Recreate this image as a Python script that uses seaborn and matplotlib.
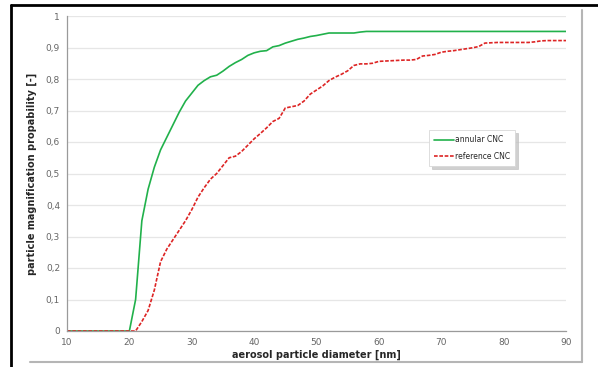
import matplotlib
matplotlib.use("Agg")
import matplotlib.pyplot as plt
from matplotlib.lines import Line2D
from matplotlib.ticker import FuncFormatter
import seaborn as sns
import pandas as pd

diameter_nm = list(range(10, 91))

annular_cnc = [
    0, 0, 0, 0, 0, 0, 0, 0, 0, 0, 0,                      # 10-20
    0.10, 0.35, 0.45, 0.52, 0.575, 0.615, 0.655, 0.695, 0.73, 0.755,  # 21-30
    0.78, 0.795, 0.807, 0.812, 0.825, 0.84, 0.852, 0.862, 0.875, 0.883,  # 31-40
    0.888, 0.89, 0.902, 0.906, 0.914, 0.92, 0.926, 0.93, 0.935, 0.938,  # 41-50
    0.942, 0.946, 0.946, 0.946, 0.946, 0.946, 0.949, 0.951, 0.951, 0.951,  # 51-60
    0.951, 0.951, 0.951, 0.951, 0.951, 0.951, 0.951, 0.951, 0.951, 0.951,  # 61-70
    0.951, 0.951, 0.951, 0.951, 0.951, 0.951, 0.951, 0.951, 0.951, 0.951,  # 71-80
    0.951, 0.951, 0.951, 0.951, 0.951, 0.951, 0.951, 0.951, 0.951, 0.951,  # 81-90
]

reference_cnc = [
    0, 0, 0, 0, 0, 0, 0, 0, 0, 0, 0,                      # 10-20
    0.0, 0.03, 0.065, 0.13, 0.22, 0.26, 0.29, 0.32, 0.35, 0.385,  # 21-30
    0.425, 0.455, 0.482, 0.50, 0.525, 0.55, 0.555, 0.57, 0.59, 0.61,  # 31-40
    0.627, 0.645, 0.665, 0.675, 0.708, 0.712, 0.716, 0.73, 0.752, 0.765,  # 41-50
    0.778, 0.795, 0.806, 0.815, 0.826, 0.843, 0.848, 0.848, 0.85, 0.856,  # 51-60
    0.857, 0.858, 0.859, 0.86, 0.86, 0.862, 0.873, 0.875, 0.878, 0.885,  # 61-70
    0.888, 0.89, 0.893, 0.896, 0.899, 0.903, 0.914, 0.915, 0.916, 0.916,  # 71-80
    0.916, 0.916, 0.916, 0.916, 0.918, 0.921, 0.922, 0.922, 0.922, 0.922,  # 81-90
]

x_ticks = [10, 20, 30, 40, 50, 60, 70, 80, 90]
y_ticks = [0, 0.1, 0.2, 0.3, 0.4, 0.5, 0.6, 0.7, 0.8, 0.9, 1]

df = pd.DataFrame({
    "diameter": diameter_nm,
    "annular CNC": annular_cnc,
    "reference CNC": reference_cnc,
})

sns.set_style("white")
plt.rcParams["font.family"] = ["DejaVu Sans"]

fig = plt.figure(figsize=(5.98, 3.67), dpi=100)
ax = fig.add_axes([67 / 598, 1 - 331 / 367, (566 - 67) / 598, (331 - 16) / 367])

sns.lineplot(data=df, x="diameter", y="annular CNC", ax=ax,
             color="#21b14b", linewidth=1.2, label="annular CNC")
sns.lineplot(data=df, x="diameter", y="reference CNC", ax=ax,
             color="#dd2424", linewidth=1.2, label="reference CNC")
ax.lines[1].set_dashes((2.2, 1.0))

ax.set_xlim(10, 90)
ax.set_ylim(0, 1)
ax.set_xticks(x_ticks)
ax.set_yticks(y_ticks)
ax.yaxis.set_major_formatter(FuncFormatter(lambda v, p: f"{v:g}".replace(".", ",")))
ax.grid(axis="y", color="#e6e6e6", linewidth=0.9)
ax.set_axisbelow(True)

for side in ["top", "right"]:
    ax.spines[side].set_visible(False)
for side in ["left", "bottom"]:
    ax.spines[side].set_color("#9a9a9a")
    ax.spines[side].set_linewidth(0.9)
ax.tick_params(axis="both", labelsize=6.5, labelcolor="#666666", length=3,
               width=0.8, direction="out", pad=2, color="#9a9a9a")

ax.set_xlabel("aerosol particle diameter [nm]", fontsize=7, fontweight="bold", labelpad=2)
ax.set_ylabel("particle magnification propability [-]", fontsize=7, fontweight="bold", labelpad=6)

leg = ax.legend(loc="upper left", bbox_to_anchor=((429 - 67) / 499, 1 - (130 - 16) / 315),
                fontsize=5.5, frameon=True, fancybox=False,
                shadow={"color": "#bdbdbd", "alpha": 0.7},
                handlelength=2.6, handletextpad=0.1, borderpad=0.7, labelspacing=1.0,
                borderaxespad=0)
leg.get_frame().set_edgecolor("#d8d8d8")
leg.get_frame().set_linewidth(0.6)

# page frame lines around the chart
fig.add_artist(Line2D([11 / 598, 1], [1 - 5 / 367, 1 - 5 / 367], color="black", linewidth=2))
fig.add_artist(Line2D([11 / 598, 11 / 598], [0, 1 - 5 / 367], color="black", linewidth=2))
fig.add_artist(Line2D([582 / 598, 582 / 598], [1 - 362 / 367, 1 - 10 / 367], color="#b5b5b5", linewidth=1.5))
fig.add_artist(Line2D([30 / 598, 582 / 598], [1 - 362 / 367, 1 - 362 / 367], color="#b5b5b5", linewidth=1.5))

fig.savefig("out.png", dpi=100)
plt.close(fig)
